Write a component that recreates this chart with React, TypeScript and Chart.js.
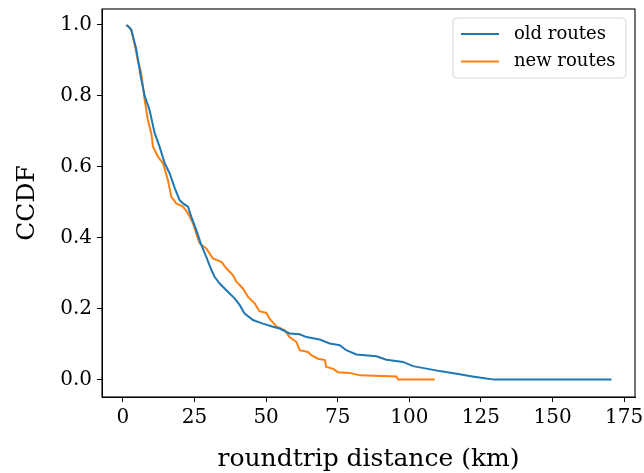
import React, { useEffect, useRef } from "react";
import { Chart, registerables } from "chart.js";

Chart.register(...registerables);

const oldX = [1.2, 2.0, 2.9, 4.7, 6.2, 7.6, 9.3, 11.1, 12.8, 14.6, 16.3, 18.1, 19.8, 21, 22.7, 23.9, 25.6, 27.4, 29.1, 30.9, 32, 33.8, 36.1, 39, 40.8, 42.5, 45.4, 48.9, 52.4, 54.7, 58.2, 61.7, 64.1, 68.7, 72.2, 75.7, 78, 81.5, 88.5, 92, 97.8, 101.3, 106, 110.6, 117.6, 122, 126.9, 129.8, 170.6];
const oldY = [1.0, 0.995, 0.987, 0.93, 0.855, 0.8, 0.76, 0.695, 0.657, 0.61, 0.582, 0.54, 0.506, 0.497, 0.488, 0.459, 0.422, 0.379, 0.346, 0.309, 0.29, 0.271, 0.252, 0.229, 0.21, 0.186, 0.168, 0.158, 0.149, 0.144, 0.13, 0.128, 0.12, 0.113, 0.102, 0.097, 0.083, 0.071, 0.066, 0.056, 0.05, 0.038, 0.031, 0.024, 0.015, 0.009, 0.003, 0, 0];

const newX = [1.2, 2.0, 2.9, 4.0, 5.2, 6.4, 7.6, 8.7, 9.9, 10.5, 12.2, 14, 15.7, 16.9, 18.6, 21, 22.7, 24.5, 25.6, 26.8, 29.1, 31.4, 34.4, 36.1, 38.4, 39.6, 41.9, 43.7, 46, 47.7, 50.1, 51.2, 53.6, 56.5, 58.2, 60.6, 61.7, 64.6, 65.8, 68.1, 70.5, 71, 73.3, 75.1, 79.2, 82.7, 95.5, 96.1, 108.9];
const newY = [1.0, 0.995, 0.985, 0.95, 0.9, 0.864, 0.789, 0.732, 0.695, 0.657, 0.629, 0.61, 0.563, 0.516, 0.497, 0.488, 0.469, 0.44, 0.412, 0.384, 0.37, 0.342, 0.332, 0.314, 0.295, 0.276, 0.257, 0.233, 0.215, 0.193, 0.188, 0.172, 0.15, 0.139, 0.12, 0.106, 0.083, 0.078, 0.069, 0.059, 0.055, 0.036, 0.031, 0.021, 0.019, 0.012, 0.009, 0, 0];

const xTicks = [0, 25, 50, 75, 100, 125, 150, 175];
const yTicks = [0, 0.2, 0.4, 0.6, 0.8, 1.0];
const seriesNames = ["old routes", "new routes"];
const seriesColors = ["#1f77b4", "#ff7f0e"];

const FONT = "'DejaVu Serif', serif";

const framePlugin = {
  id: "frameAndLegend",
  afterDraw(chart: any) {
    const { ctx, chartArea } = chart;
    ctx.save();
    ctx.strokeStyle = "#000";
    ctx.lineWidth = 1.1;
    ctx.strokeRect(chartArea.left, chartArea.top, chartArea.right - chartArea.left, chartArea.bottom - chartArea.top);
    // legend
    const w = 173;
    const h = 60;
    const x0 = chartArea.right - 9 - w;
    const y0 = chartArea.top + 9;
    const r = 4;
    ctx.beginPath();
    ctx.moveTo(x0 + r, y0);
    ctx.lineTo(x0 + w - r, y0);
    ctx.quadraticCurveTo(x0 + w, y0, x0 + w, y0 + r);
    ctx.lineTo(x0 + w, y0 + h - r);
    ctx.quadraticCurveTo(x0 + w, y0 + h, x0 + w - r, y0 + h);
    ctx.lineTo(x0 + r, y0 + h);
    ctx.quadraticCurveTo(x0, y0 + h, x0, y0 + h - r);
    ctx.lineTo(x0, y0 + r);
    ctx.quadraticCurveTo(x0, y0, x0 + r, y0);
    ctx.closePath();
    ctx.fillStyle = "rgba(255,255,255,0.8)";
    ctx.fill();
    ctx.strokeStyle = "#d6d6d6";
    ctx.lineWidth = 1;
    ctx.stroke();
    ctx.font = `18px ${FONT}`;
    ctx.textBaseline = "middle";
    ctx.textAlign = "left";
    seriesNames.forEach((name, i) => {
      const yy = y0 + 16 + i * 27.5;
      ctx.strokeStyle = seriesColors[i];
      ctx.lineWidth = 2;
      ctx.beginPath();
      ctx.moveTo(x0 + 8, yy);
      ctx.lineTo(x0 + 46, yy);
      ctx.stroke();
      ctx.fillStyle = "#000";
      ctx.fillText(name, x0 + 61, yy);
    });
    ctx.restore();
  },
};

export default function App() {
  const ref = useRef<HTMLCanvasElement | null>(null);
  useEffect(() => {
    if (!ref.current) return;
    const chart = new Chart(ref.current, {
      type: "line",
      data: {
        datasets: [
          {
            label: seriesNames[0],
            data: oldX.map((x, i) => ({ x, y: oldY[i] })),
            borderColor: seriesColors[0],
            backgroundColor: seriesColors[0],
            borderWidth: 2,
            pointRadius: 0,
            tension: 0,
            fill: false,
          },
          {
            label: seriesNames[1],
            data: newX.map((x, i) => ({ x, y: newY[i] })),
            borderColor: seriesColors[1],
            backgroundColor: seriesColors[1],
            borderWidth: 2,
            pointRadius: 0,
            tension: 0,
            fill: false,
          },
        ],
      },
      options: {
        responsive: false,
        animation: false,
        layout: { padding: { top: 9, right: 9, left: 0, bottom: 0 } },
        plugins: { legend: { display: false }, tooltip: { enabled: false } },
        scales: {
          x: {
            type: "linear",
            min: -7.3,
            max: 178.8,
            afterFit(scale: any) {
              scale.height = 76;
              scale.paddingLeft = 0;
              scale.paddingRight = 0;
            },
            afterBuildTicks(scale: any) {
              scale.ticks = xTicks.map((v) => ({ value: v }));
            },
            grid: { drawOnChartArea: false, drawTicks: true, tickLength: 5, tickColor: "#000", tickWidth: 1 },
            border: { display: true, color: "#000", width: 1 },
            ticks: {
              color: "#000",
              font: { family: FONT, size: 20 },
              padding: 4,
              maxRotation: 0,
              autoSkip: false,
              callback: (v: any) => String(v),
            },
            title: {
              display: true,
              text: "roundtrip distance (km)",
              color: "#000",
              font: { family: FONT, size: 25, lineHeight: 1.05 },
              padding: { top: 0, bottom: 0 },
            },
          },
          y: {
            type: "linear",
            min: -0.049,
            max: 1.045,
            afterFit(scale: any) {
              scale.width = 102;
              scale.paddingTop = 0;
              scale.paddingBottom = 0;
            },
            afterBuildTicks(scale: any) {
              scale.ticks = yTicks.map((v) => ({ value: v }));
            },
            grid: { drawOnChartArea: false, drawTicks: true, tickLength: 5, tickColor: "#000", tickWidth: 1 },
            border: { display: true, color: "#000", width: 1 },
            ticks: {
              color: "#000",
              font: { family: FONT, size: 20 },
              padding: 5,
              autoSkip: false,
              callback: (v: any) => Number(v).toFixed(1),
            },
            title: {
              display: true,
              text: "CCDF",
              color: "#000",
              font: { family: FONT, size: 25 },
              padding: { top: 12, bottom: 0 },
            },
          },
        },
      },
      plugins: [framePlugin],
    });
    return () => chart.destroy();
  }, []);
  return (
    <div style={{ position: "fixed", left: 0, top: 0, width: 644, height: 473, background: "#fff" }}>
      <canvas ref={ref} width={644} height={473} style={{ width: 644, height: 473 }} />
    </div>
  );
}
